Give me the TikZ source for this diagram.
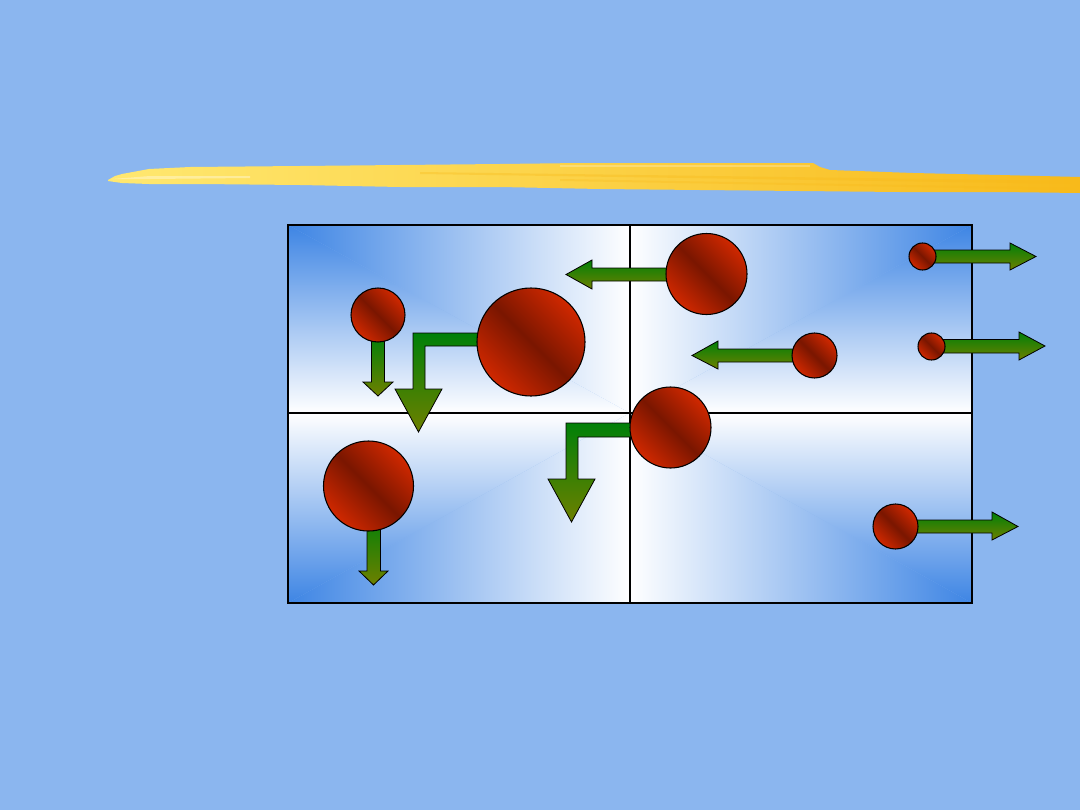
\documentclass[tikz,border=0pt]{standalone}
\usetikzlibrary{calc}
\definecolor{bg}{RGB}{139,182,239}
\definecolor{qblue}{RGB}{62,133,228}
\definecolor{redA}{RGB}{208,40,0}
\definecolor{redB}{RGB}{122,22,0}
\definecolor{grnA}{RGB}{0,128,8}
\definecolor{grnB}{RGB}{110,128,0}
\definecolor{yelA}{RGB}{255,232,112}
\definecolor{yelB}{RGB}{255,214,64}
\definecolor{yelC}{RGB}{248,186,26}
\newcommand\pxu{0.75pt}
\tikzset{
  ball/.style={circle, draw=black, line width=0.8pt, inner sep=0pt,
    left color=redA, right color=redA, middle color=redB, shading angle=-45},
  blockarrow/.style={draw=black, line width=0.6pt, line join=miter,
    top color=grnA, bottom color=grnB},
  gridline/.style={draw=black, line width=1.5pt},
}
\begin{document}
\begin{tikzpicture}[x=\pxu, y=-\pxu]
\useasboundingbox (0,0) rectangle (1080,810);
\fill[bg] (0,0) rectangle (1080,810);

% yellow brush stroke
\shade[left color=yelA, middle color=yelB, right color=yelC]
  (108,180) -- (115,176) -- (122,174) -- (149,169) -- (190,167) -- (300,166)
  -- (400,165) -- (500,164) -- (580,163) -- (700,163) -- (813,163) -- (820,167)
  -- (830,170) -- (913,173) -- (1000,175) -- (1080,177)
  -- (1080,193) -- (1000,192) -- (900,192) -- (800,191) -- (700,190) -- (600,189)
  -- (500,187) -- (400,187) -- (300,185) -- (200,184) -- (149,184) -- (122,183)
  -- (108,181) -- cycle;
\fill[white, opacity=0.35] (112,179) -- (150,176) -- (250,176) -- (250,178) -- (150,179) -- cycle;
\fill[yelC, opacity=0.35] (420,172) -- (1080,181) -- (1080,184) -- (420,174) -- cycle;
\fill[yelC, opacity=0.3] (560,179) -- (1080,188) -- (1080,190) -- (560,181) -- cycle;
\fill[white, opacity=0.25] (560,165) -- (810,165) -- (810,167) -- (560,167) -- cycle;

% quadrant gradients
\shade[top color=qblue, bottom color=white] (288,225) -- (288,413.3) -- (630.3,413.3) -- cycle;
\shade[left color=qblue, right color=white] (288,225) -- (630.3,225) -- (630.3,413.3) -- cycle;
\shade[top color=qblue, bottom color=white] (972,225) -- (972,413.3) -- (629.7,413.3) -- cycle;
\shade[right color=qblue, left color=white] (972,225) -- (629.7,225) -- (629.7,413.3) -- cycle;
\shade[bottom color=qblue, top color=white] (288,603) -- (288,412.7) -- (630.3,412.7) -- cycle;
\shade[left color=qblue, right color=white] (288,603) -- (630.3,603) -- (630.3,412.7) -- cycle;
\shade[bottom color=qblue, top color=white] (972,603) -- (972,412.7) -- (629.7,412.7) -- cycle;
\shade[right color=qblue, left color=white] (972,603) -- (629.7,603) -- (629.7,412.7) -- cycle;

\draw[gridline] (288,225) rectangle (972,603);
\draw[gridline] (630,225) -- (630,603);
\draw[gridline] (288,413) -- (972,413);

% arrows
\shade[blockarrow] (371.5,335) -- (371.5,382) -- (363,382) -- (378,396) -- (393,382) -- (384.5,382) -- (384.5,335) -- cycle;
\shade[blockarrow] (500,333) -- (413,333) -- (413,389) -- (395,389) -- (418.5,432) -- (442,389) -- (425,389) -- (425,346) -- (500,346) -- cycle;
\shade[blockarrow] (690,268) -- (592,268) -- (592,260) -- (566,274.5) -- (592,289) -- (592,281) -- (690,281) -- cycle;
\shade[blockarrow] (800,349) -- (718,349) -- (718,341) -- (692,355.5) -- (718,369) -- (718,362) -- (800,362) -- cycle;
\shade[blockarrow] (925,250) -- (1010,250) -- (1010,243) -- (1036,256.5) -- (1010,270) -- (1010,263) -- (925,263) -- cycle;
\shade[blockarrow] (935,339.5) -- (1019,339.5) -- (1019,332) -- (1045,346) -- (1019,360) -- (1019,353) -- (935,353) -- cycle;
\shade[blockarrow] (650,423) -- (566,423) -- (566,479) -- (548,479) -- (571.5,522) -- (595,479) -- (578,479) -- (578,437) -- (650,437) -- cycle;
\shade[blockarrow] (367,515) -- (367,571) -- (359,571) -- (373.5,585) -- (388,571) -- (380.5,571) -- (380.5,515) -- cycle;
\shade[blockarrow] (900,520) -- (992,520) -- (992,512) -- (1018,526.5) -- (992,540) -- (992,533) -- (900,533) -- cycle;

% balls
\node[ball, minimum size=54*\pxu] (b1) at (378,315) {};
\node[ball, minimum size=108*\pxu] (b2) at (531,342) {};
\node[ball, minimum size=81*\pxu] (b3) at (706.5,274) {};
\node[ball, minimum size=45*\pxu] (b4) at (814.5,355.5) {};
\node[ball, minimum size=27*\pxu] (b5) at (922.5,256.5) {};
\node[ball, minimum size=27*\pxu] (b6) at (931.5,346.5) {};
\node[ball, minimum size=81*\pxu] (b7) at (670.5,427.5) {};
\node[ball, minimum size=90*\pxu] (b8) at (368.5,486) {};
\node[ball, minimum size=45*\pxu] (b9) at (895.5,526.5) {};
\end{tikzpicture}
\end{document}
